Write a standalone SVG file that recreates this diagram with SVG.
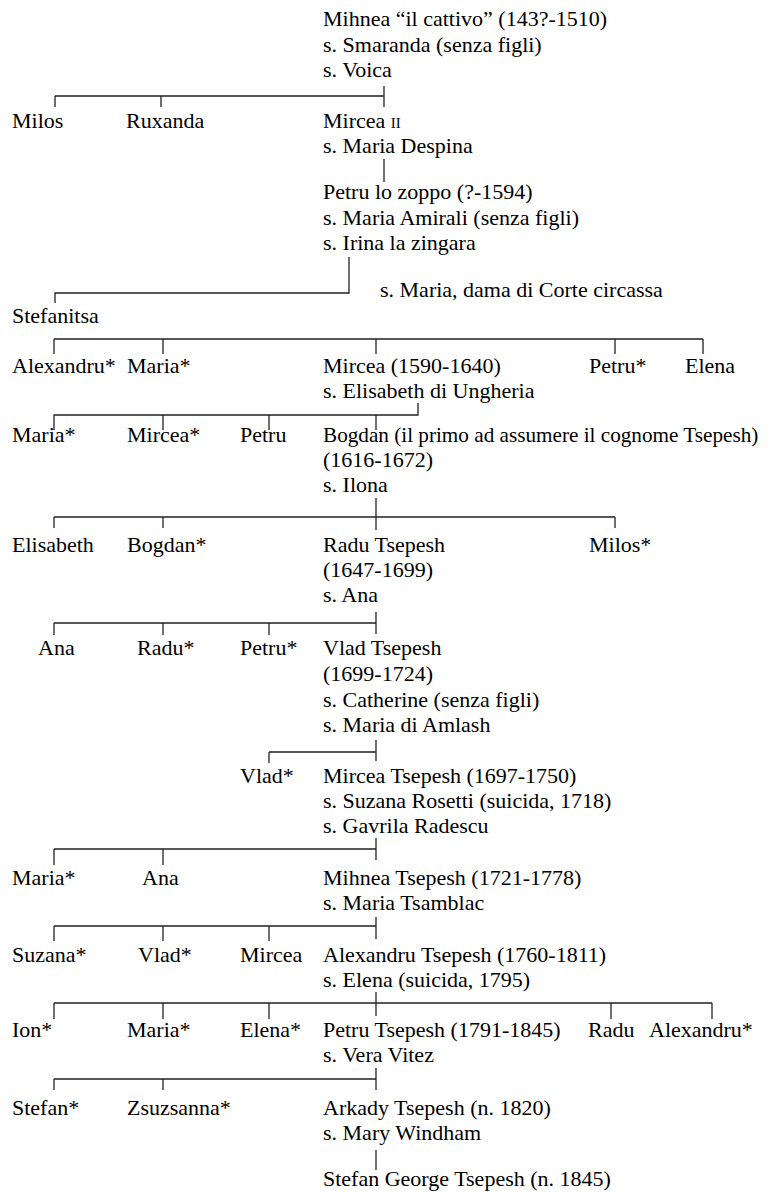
<svg xmlns="http://www.w3.org/2000/svg" width="771" height="1192" viewBox="0 0 771 1192">
<style>
text{font-family:"Liberation Serif","Times New Roman",serif;font-size:22px;fill:#000}
.sc{font-size:15px}
.long{font-size:21.2px}
#connectors path{fill:none;stroke:#222;stroke-width:1.3}
</style>
<rect width="771" height="1192" fill="#fff"/>
<g id="connectors">
<path d="M384 86V107M55 96H384M55 96V107M161 96V107"/>
<path d="M384 159V182"/>
<path d="M349 257V293H55V303"/>
<path d="M54 339H703M54 339V354M163 339V354M376 339V354M615 339V354M703 339V354"/>
<path d="M418 403V415H54V430M163 415V430M269 415V430M376 415V430"/>
<path d="M376 498V530M54 517H615M54 517V528M163 517V528M615 517V528"/>
<path d="M376 612V634M54 623H376M54 623V635M163 623V635M269 623V635"/>
<path d="M376 740V761M269 752H376M269 752V763"/>
<path d="M376 838V860M54 849H376M54 849V865M163 849V865"/>
<path d="M376 917V939M54 926H376M54 926V941M163 926V941M269 926V941"/>
<path d="M376 992V1016M54 1003H712M54 1003V1019M163 1003V1019M269 1003V1019M611 1003V1019M712 1003V1019"/>
<path d="M376 1068V1090M54 1079H376M54 1079V1090M163 1079V1090"/>
<path d="M376 1150V1170"/>
</g>
<g id="mihnea"><text x="323" y="26">Mihnea “il cattivo” (143?-1510)</text><text x="323" y="52">s. Smaranda (senza figli)</text><text x="323" y="77">s. Voica</text></g>
<g id="milos1"><text x="12" y="128">Milos</text></g>
<g id="ruxanda"><text x="126" y="128">Ruxanda</text></g>
<g id="mircea2"><text x="323" y="128">Mircea <tspan class="sc">II</tspan></text><text x="323" y="153">s. Maria Despina</text></g>
<g id="petru-zoppo"><text x="323" y="199">Petru lo zoppo (?-1594)</text><text x="323" y="225">s. Maria Amirali (senza figli)</text><text x="323" y="250">s. Irina la zingara</text></g>
<g id="maria-circassa"><text x="380" y="297">s. Maria, dama di Corte circassa</text></g>
<g id="stefanitsa"><text x="12" y="323">Stefanitsa</text></g>
<g id="alexandru1"><text x="12" y="373">Alexandru*</text></g>
<g id="maria1"><text x="127" y="373">Maria*</text></g>
<g id="mircea1590"><text x="323" y="373">Mircea (1590-1640)</text><text x="323" y="398">s. Elisabeth di Ungheria</text></g>
<g id="petru1"><text x="589" y="373">Petru*</text></g>
<g id="elena1"><text x="685" y="373">Elena</text></g>
<g id="maria2"><text x="12" y="442">Maria*</text></g>
<g id="mircea-s"><text x="127" y="442">Mircea*</text></g>
<g id="petru2"><text x="240" y="442">Petru</text></g>
<g id="bogdan"><text class="long" x="323" y="442">Bogdan (il primo ad assumere il cognome Tsepesh)</text><text x="323" y="467">(1616-1672)</text><text x="323" y="492">s. Ilona</text></g>
<g id="elisabeth"><text x="12" y="552">Elisabeth</text></g>
<g id="bogdan-s"><text x="127" y="552">Bogdan*</text></g>
<g id="radu-tsepesh"><text x="323" y="552">Radu Tsepesh</text><text x="323" y="577">(1647-1699)</text><text x="323" y="602">s. Ana</text></g>
<g id="milos2"><text x="589" y="552">Milos*</text></g>
<g id="ana1"><text x="38" y="655">Ana</text></g>
<g id="radu-s"><text x="137" y="655">Radu*</text></g>
<g id="petru3"><text x="240" y="655">Petru*</text></g>
<g id="vlad-tsepesh"><text x="323" y="655">Vlad Tsepesh</text><text x="323" y="681">(1699-1724)</text><text x="323" y="707">s. Catherine (senza figli)</text><text x="323" y="732">s. Maria di Amlash</text></g>
<g id="vlad-s1"><text x="240" y="783">Vlad*</text></g>
<g id="mircea-tsepesh"><text x="323" y="783">Mircea Tsepesh (1697-1750)</text><text x="323" y="808">s. Suzana Rosetti (suicida, 1718)</text><text x="323" y="833">s. Gavrila Radescu</text></g>
<g id="maria3"><text x="12" y="885">Maria*</text></g>
<g id="ana2"><text x="142" y="885">Ana</text></g>
<g id="mihnea-tsepesh"><text x="323" y="885">Mihnea Tsepesh (1721-1778)</text><text x="323" y="910">s. Maria Tsamblac</text></g>
<g id="suzana"><text x="12" y="962">Suzana*</text></g>
<g id="vlad-s2"><text x="138" y="962">Vlad*</text></g>
<g id="mircea3"><text x="240" y="962">Mircea</text></g>
<g id="alexandru-tsepesh"><text x="323" y="962">Alexandru Tsepesh (1760-1811)</text><text x="323" y="987">s. Elena (suicida, 1795)</text></g>
<g id="ion"><text x="12" y="1037">Ion*</text></g>
<g id="maria4"><text x="127" y="1037">Maria*</text></g>
<g id="elena2"><text x="240" y="1037">Elena*</text></g>
<g id="petru-tsepesh"><text x="323" y="1037">Petru Tsepesh (1791-1845)</text><text x="323" y="1062">s. Vera Vitez</text></g>
<g id="radu2"><text x="588" y="1037">Radu</text></g>
<g id="alexandru2"><text x="649" y="1037">Alexandru*</text></g>
<g id="stefan"><text x="12" y="1115">Stefan*</text></g>
<g id="zsuzsanna"><text x="127" y="1115">Zsuzsanna*</text></g>
<g id="arkady"><text x="323" y="1115">Arkady Tsepesh (n. 1820)</text><text x="323" y="1140">s. Mary Windham</text></g>
<g id="stefan-george"><text x="323" y="1186">Stefan George Tsepesh (n. 1845)</text></g>
</svg>
